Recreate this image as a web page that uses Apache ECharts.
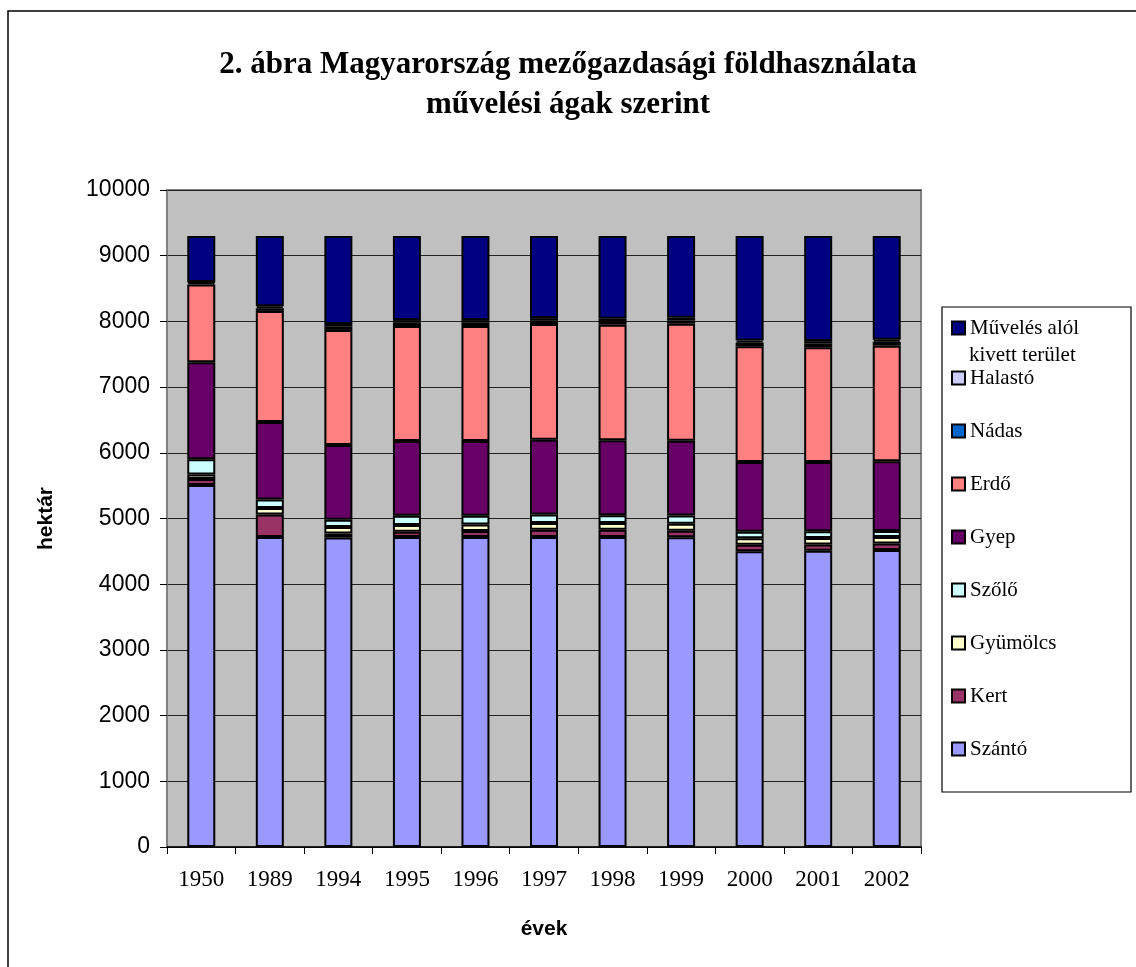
<!DOCTYPE html>
<html>
<head>
<meta charset="utf-8">
<script src="https://cdn.jsdelivr.net/npm/echarts@6/dist/echarts.min.js"></script>
<style>
  html, body { margin: 0; padding: 0; background: #fff; }
  #main { width: 1136px; height: 967px; }
</style>
</head>
<body>
<div id="main"></div>
<script>
// évek
var years = ['1950', '1989', '1994', '1995', '1996', '1997', '1998', '1999', '2000', '2001', '2002'];

// művelési ágak, alulról felfelé (hektár, ezer)
var szanto   = [5510, 4720, 4710, 4720, 4720, 4720, 4720, 4715, 4500, 4510, 4520];
var kert     = [90, 340, 60, 80, 90, 110, 110, 100, 100, 95, 100];
var gyumolcs = [70, 100, 100, 100, 100, 100, 100, 105, 100, 100, 100];
var szolo    = [230, 130, 110, 140, 130, 130, 120, 125, 100, 100, 90];
var gyep     = [1480, 1180, 1140, 1140, 1140, 1140, 1140, 1140, 1060, 1055, 1060];
var erdo     = [1180, 1690, 1750, 1750, 1750, 1760, 1760, 1780, 1760, 1745, 1760];
var nadas    = [30, 40, 50, 50, 50, 50, 50, 50, 60, 60, 60];
var halasto  = [10, 30, 40, 40, 40, 40, 40, 40, 30, 35, 30];
var muveles  = [700, 1070, 1340, 1280, 1280, 1250, 1260, 1245, 1590, 1600, 1580];

var yTicks = { min: 0, max: 10000, step: 1000 };

var names = ['Szántó', 'Kert', 'Gyümölcs', 'Szőlő', 'Gyep', 'Erdő', 'Nádas', 'Halastó', 'Művelés alól kivett terület'];
var values = [szanto, kert, gyumolcs, szolo, gyep, erdo, nadas, halasto, muveles];
var colors = ['#9999FF', '#993366', '#FFFFCC', '#CCFFFF', '#660066', '#FF8080', '#0066CC', '#CCCCFF', '#000080'];

var serif = '"Liberation Serif", "Times New Roman", serif';
var sans = '"Liberation Sans", Arial, sans-serif';

var myChart = echarts.init(document.getElementById('main'));

var series = [];
for (var i = 0; i < names.length; i++) {
    series.push({
        name: names[i],
        type: 'bar',
        stack: 'osszes',
        data: values[i],
        barWidth: 28,
        itemStyle: { color: colors[i], borderColor: '#000', borderWidth: 2 }
    });
}

var legendText = { fontFamily: serif, fontSize: 21, color: '#000', lineHeight: 24 };

option = {
    animation: false,
    backgroundColor: '#fff',
    title: {
        text: '2. ábra Magyarország mezőgazdasági földhasználata\nművelési ágak szerint',
        left: 'center',
        top: 40,
        padding: [5, 5, 5, 17],
        textStyle: { fontFamily: serif, fontWeight: 'bold', fontSize: 31, lineHeight: 40, color: '#000' }
    },
    legend: [{
        // első tétel két sorban, a második sor külön szöveg
        data: ['Művelés alól kivett terület'],
        formatter: function() { return 'Művelés alól'; },
        orient: 'vertical',
        left: 951,
        top: 316,
        padding: 0,
        icon: 'rect',
        itemWidth: 13,
        itemHeight: 13,
        textStyle: legendText
    }, {
        data: ['Halastó', 'Nádas', 'Erdő', 'Gyep', 'Szőlő', 'Gyümölcs', 'Kert', 'Szántó'],
        orient: 'vertical',
        left: 951,
        top: 366,
        padding: 0,
        itemGap: 29,
        icon: 'rect',
        itemWidth: 13,
        itemHeight: 13,
        textStyle: legendText
    }],
    graphic: [{
        type: 'rect',
        shape: { x: 8, y: 11, width: 1140, height: 980 },
        style: { fill: 'none', stroke: '#000', lineWidth: 1.5 },
        z: -1
    }, {
        type: 'rect',
        shape: { x: 942, y: 307, width: 189, height: 485 },
        style: { fill: 'none', stroke: '#000', lineWidth: 1.2 }
    }, {
        type: 'text',
        x: 969,
        y: 345,
        style: { text: 'kivett terület', font: '21px ' + serif, fill: '#000' }
    }],
    grid: {
        left: 167,
        top: 190,
        right: 215,
        bottom: 120,
        show: true,
        backgroundColor: '#C0C0C0',
        borderColor: '#808080',
        borderWidth: 2
    },
    xAxis: {
        type: 'category',
        data: years,
        name: 'évek',
        nameLocation: 'middle',
        nameGap: 72,
        nameTextStyle: { fontFamily: sans, fontWeight: 'bold', fontSize: 21, color: '#000' },
        axisLine: { lineStyle: { color: '#000', width: 1.5 } },
        axisTick: { show: true, length: 7, lineStyle: { color: '#000' } },
        axisLabel: { fontFamily: serif, fontSize: 23, color: '#000', margin: 21 }
    },
    yAxis: {
        type: 'value',
        min: yTicks.min,
        max: yTicks.max,
        interval: yTicks.step,
        name: 'hektár',
        nameLocation: 'middle',
        nameGap: 110,
        nameTextStyle: { fontFamily: sans, fontWeight: 'bold', fontSize: 21, color: '#000' },
        axisLine: { show: true, lineStyle: { color: '#808080', width: 1.5 } },
        axisTick: { show: true, length: 7, lineStyle: { color: '#000' } },
        axisLabel: {
            fontFamily: sans, fontSize: 23, color: '#000', margin: 17,
            formatter: function(v) { return String(v); }
        },
        splitLine: { lineStyle: { color: '#222', width: 1 } }
    },
    series: series
};

myChart.setOption(option);
</script>
</body>
</html>
